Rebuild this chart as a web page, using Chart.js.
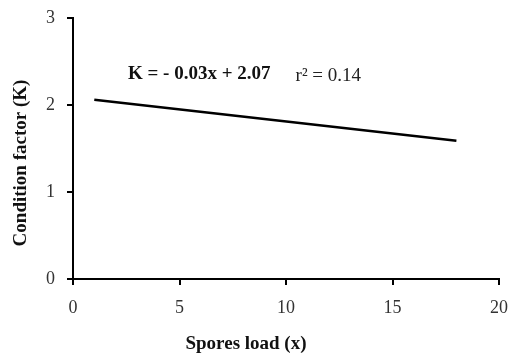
<!DOCTYPE html>
<html><head><meta charset="utf-8">
<script src="https://cdn.jsdelivr.net/npm/chart.js@4"></script>
<style>html,body{margin:0;padding:0;background:#fff}#wrap{width:512px;height:356px}</style>
</head><body><div id="wrap"><canvas id="c" width="512" height="356"></canvas></div>
<script>
const xValues = [1, 18];
const kValues = [2.06, 1.59];
const xTicks = [0, 5, 10, 15, 20];
const yTicks = [0, 1, 2, 3];
const equationText = "K = - 0.03x + 2.07";
const r2Text = "r² = 0.14";
const xTitle = "Spores load (x)";
const yTitle = "Condition factor (K)";

const serif = "'Liberation Serif','Times New Roman',serif";

const annot = {
  id: 'annot',
  afterDatasetsDraw(chart) {
    const ctx = chart.ctx, xs = chart.scales.x, ys = chart.scales.y;
    ctx.save();
    ctx.fillStyle = '#111';
    ctx.textBaseline = 'alphabetic';
    ctx.textAlign = 'left';
    ctx.font = "bold 19px " + serif;
    ctx.fillText(equationText, xs.getPixelForValue(2.58), ys.getPixelForValue(2.3));
    ctx.font = "19px " + serif;
    ctx.fillStyle = '#222';
    ctx.fillText(r2Text, xs.getPixelForValue(10.45), ys.getPixelForValue(2.28));
    // axis titles
    ctx.fillStyle = '#111';
    ctx.font = "bold 19px " + serif;
    ctx.textAlign = 'center';
    ctx.textBaseline = 'middle';
    ctx.fillText(xTitle, 246, 344);
    ctx.translate(21, 163);
    ctx.rotate(-Math.PI / 2);
    ctx.fillText(yTitle, 0, 0);
    ctx.restore();
  }
};

new Chart(document.getElementById('c'), {
  type: 'scatter',
  data: {
    datasets: [{
      data: xValues.map((x, i) => ({x: x, y: kValues[i]})),
      showLine: true,
      borderColor: '#000',
      borderWidth: 2.5,
      pointRadius: 0,
      fill: false
    }]
  },
  options: {
    responsive: false,
    animation: false,
    layout: {padding: {left: 0, top: 18, right: 13, bottom: 0}},
    plugins: {legend: {display: false}, tooltip: {enabled: false}},
    scales: {
      x: {
        type: 'linear', min: 0, max: 20,
        afterBuildTicks: s => { s.ticks = xTicks.map(v => ({value: v})); },
        afterFit: s => { s.height = 77; s.paddingLeft = 0; s.paddingRight = 0; },
        ticks: {color: '#333', font: {family: serif, size: 18}, padding: 12, maxRotation: 0},
        grid: {drawOnChartArea: false, tickLength: 6, tickColor: '#000', lineWidth: 2},
        border: {color: '#000', width: 2},
        title: {display: false}
      },
      y: {
        type: 'linear', min: 0, max: 3,
        afterBuildTicks: s => { s.ticks = yTicks.map(v => ({value: v})); },
        afterFit: s => { s.width = 73; s.paddingTop = 0; s.paddingBottom = 0; },
        ticks: {color: '#333', font: {family: serif, size: 18}, padding: 12},
        grid: {drawOnChartArea: false, tickLength: 6, tickColor: '#000', lineWidth: 2},
        border: {color: '#000', width: 2},
        title: {display: false}
      }
    }
  },
  plugins: [annot]
});
</script>
</body></html>
